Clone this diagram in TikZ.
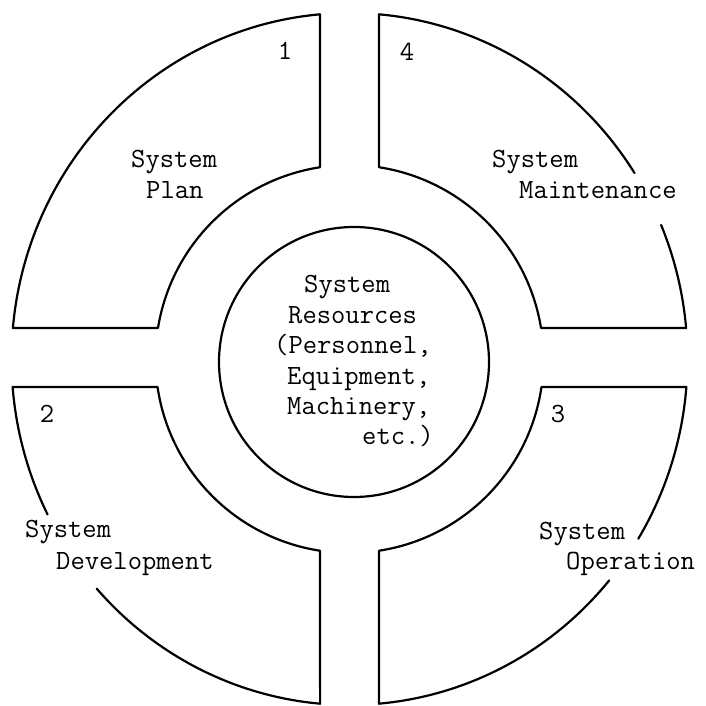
\documentclass[tikz,border=0pt]{standalone}
\usepackage{fontspec}
\usetikzlibrary{calc}
\tikzset{
  seg/.style={line width=2.2pt, line join=round, line cap=round},
  lbl/.style={inner sep=0pt, anchor=base west, font=\ttfamily\fontsize{27.8}{30}\selectfont},
  num/.style={inner sep=0pt, anchor=base, font=\ttfamily\fontsize{27.8}{30}\selectfont}
}
\begin{document}
\begin{tikzpicture}[x=1pt,y=1pt]
\useasboundingbox (0,0) rectangle (705,706);
\coordinate (C) at (349.5,347);
\coordinate (M) at (354,344);
\def\rx{338}\def\ry{346}\def\ri{194}
% segment 1 (top left)
\draw[seg] ($(C)+(95.01:\rx pt and \ry pt)$)
  arc[start angle=95.01, end angle=174.86, x radius=\rx, y radius=\ry]
  -- ($(C)+(170.81:\ri)$)
  arc[start angle=170.81, end angle=98.75, radius=\ri] -- cycle;
% segment 4 (top right)
\draw[seg] ($(C)+(22.8:\rx pt and \ry pt)$)
  arc[start angle=22.8, end angle=5.14, x radius=\rx, y radius=\ry]
  -- ($(C)+(9.195:\ri)$)
  arc[start angle=9.195, end angle=81.25, radius=\ri]
  -- ($(C)+(84.99:\rx pt and \ry pt)$)
  arc[start angle=84.99, end angle=32.5, x radius=\rx, y radius=\ry];
% segment 2 (bottom left)
\draw[seg] ($(C)+(206.7:\rx pt and \ry pt)$)
  arc[start angle=206.7, end angle=184.64, x radius=\rx, y radius=\ry]
  -- ($(C)+(188.30:\ri)$)
  arc[start angle=188.30, end angle=261.25, radius=\ri]
  -- ($(C)+(265.01:\rx pt and \ry pt)$)
  arc[start angle=265.01, end angle=221.6, x radius=\rx, y radius=\ry];
% segment 3 (bottom right)
\draw[seg] ($(C)+(328.7:\rx pt and \ry pt)$)
  arc[start angle=328.7, end angle=355.36, x radius=\rx, y radius=\ry]
  -- ($(C)+(351.70:\ri)$)
  arc[start angle=351.70, end angle=278.75, radius=\ri]
  -- ($(C)+(274.99:\rx pt and \ry pt)$)
  arc[start angle=274.99, end angle=320.2, x radius=\rx, y radius=\ry];
% center circle
\draw[seg] (M) circle[radius=135];
% numbers
\node[num] (n1) at (285,646) {1};
\node[num] (n4) at (407,645) {4};
\node[num] (n2) at (47,283) {2};
\node[num] (n3) at (558,283) {3};
% labels
\node[lbl] (p1) at (131,538) {System};
\node[lbl] (p2) at (146,507) {Plan};
\node[lbl] (m1) at (492,538) {System};
\node[lbl] (m2) at (519,507) {Maintenance};
\node[lbl] (d1) at (25,168) {System};
\node[lbl] (d2) at (56,136) {Development};
\node[lbl] (o1) at (539,166) {System};
\node[lbl] (o2) at (566,136) {Operation};
\node[lbl] (r1) at (304,413) {System};
\node[lbl] (r2) at (288,382.6) {Resources};
\node[lbl] (r3) at (274,352.2) {(Personnel,};
\node[lbl] (r4) at (287,321.8) {Equipment,};
\node[lbl] (r5) at (287,291.4) {Machinery,};
\node[lbl] (r6) at (362,261) {etc.)};
\end{tikzpicture}
\end{document}
